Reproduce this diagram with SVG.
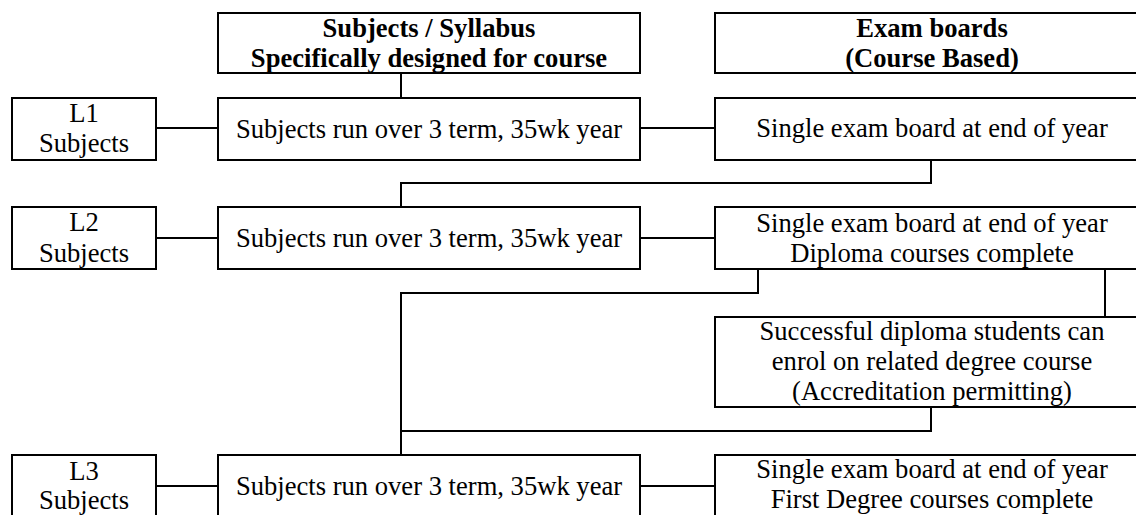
<svg xmlns="http://www.w3.org/2000/svg" width="1136" height="515" viewBox="0 0 1136 515">
<style>
.b{fill:#fff;stroke:#000;stroke-width:2}
.c{fill:none;stroke:#000;stroke-width:2}
text{font-family:"Liberation Serif","Times New Roman",serif;font-size:26.6px;fill:#000;text-anchor:middle}
.h{font-weight:bold}
</style>
<rect width="1136" height="515" fill="#fff"/>
<g id="connectors">
<path class="c" d="M401 73V98"/>
<path class="c" d="M156 128H218M640 128H715"/>
<path class="c" d="M931 160V183H401V207"/>
<path class="c" d="M156 238H218M640 238H715"/>
<path class="c" d="M758 269V293H401V455"/>
<path class="c" d="M1105 269V317"/>
<path class="c" d="M931 407V431H401"/>
<path class="c" d="M156 486H218M640 486H715"/>
</g>
<g id="hdr-subjects"><rect class="b" x="218" y="13" width="422" height="60"/><text class="h" x="429" y="37">Subjects / Syllabus</text><text class="h" x="429" y="67">Specifically designed for course</text></g>
<g id="hdr-exam"><rect class="b" x="715" y="13" width="434" height="60"/><text class="h" x="932" y="37">Exam boards</text><text class="h" x="932" y="67">(Course Based)</text></g>
<g id="l1"><rect class="b" x="12" y="98" width="144" height="62"/><text x="84" y="122">L1</text><text x="84" y="152">Subjects</text></g>
<g id="m1"><rect class="b" x="218" y="98" width="422" height="62"/><text x="429" y="138">Subjects run over 3 term, 35wk year</text></g>
<g id="r1"><rect class="b" x="715" y="98" width="434" height="62"/><text x="932" y="137">Single exam board at end of year</text></g>
<g id="l2"><rect class="b" x="12" y="207" width="144" height="62"/><text x="84" y="231">L2</text><text x="84" y="262">Subjects</text></g>
<g id="m2"><rect class="b" x="218" y="207" width="422" height="62"/><text x="429" y="247">Subjects run over 3 term, 35wk year</text></g>
<g id="r2"><rect class="b" x="715" y="207" width="434" height="62"/><text x="932" y="232">Single exam board at end of year</text><text x="932" y="262">Diploma courses complete</text></g>
<g id="s"><rect class="b" x="715" y="317" width="434" height="90"/><text x="932" y="340">Successful diploma students can</text><text x="932" y="370">enrol on related degree course</text><text x="932" y="400">(Accreditation permitting)</text></g>
<g id="l3"><rect class="b" x="12" y="455" width="144" height="62"/><text x="84" y="480">L3</text><text x="84" y="509">Subjects</text></g>
<g id="m3"><rect class="b" x="218" y="455" width="422" height="62"/><text x="429" y="495">Subjects run over 3 term, 35wk year</text></g>
<g id="r3"><rect class="b" x="715" y="455" width="434" height="62"/><text x="932" y="478">Single exam board at end of year</text><text x="932" y="508">First Degree courses complete</text></g>
</svg>
